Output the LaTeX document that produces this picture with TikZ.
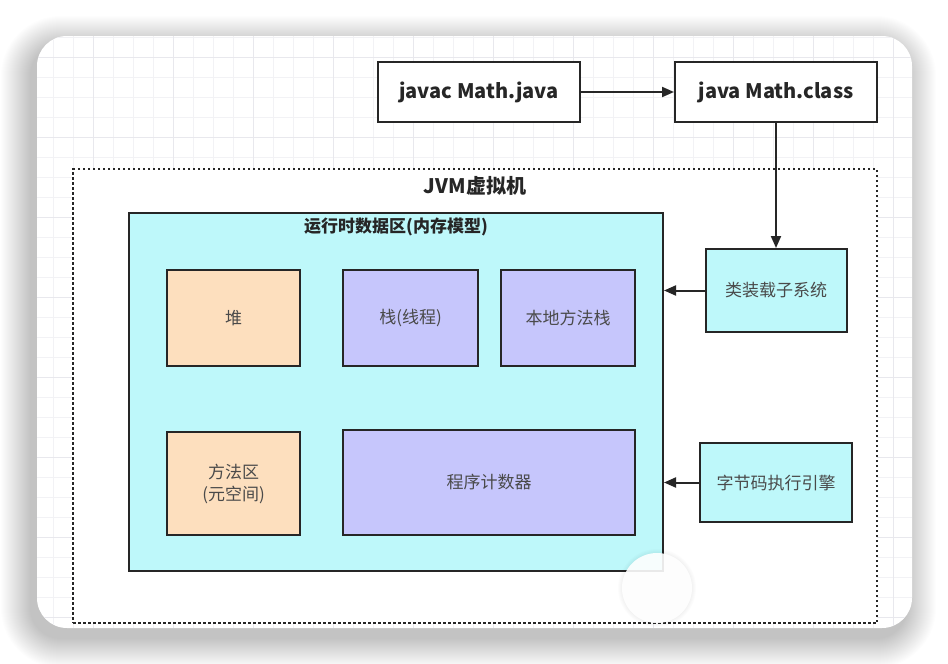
\documentclass[tikz,border=0pt]{standalone}
\usepackage{fontspec}
\setmainfont{Noto Sans CJK SC}
\usetikzlibrary{arrows.meta, positioning, calc}
\definecolor{jvmInk}{HTML}{262626}
\definecolor{jvmText}{HTML}{4A4A4A}
\definecolor{jvmCyan}{HTML}{BEF8FA}
\definecolor{jvmPeach}{HTML}{FDDFBE}
\definecolor{jvmViolet}{HTML}{C6C6FC}
\definecolor{jvmGrid}{HTML}{F2F2F5}
\definecolor{jvmGridMajor}{HTML}{E8E8ED}
\tikzset{
  jvmbox/.style={rectangle, draw=jvmInk, line width=2pt, inner sep=2pt, align=center,
                 text=jvmText, font=\fontsize{17}{22}\selectfont},
  cmdbox/.style={jvmbox, fill=white, text=jvmInk, font=\fontsize{20}{24}\selectfont\bfseries,
                 minimum width=202pt, minimum height=60pt},
  jvmflow/.style={-{Triangle[length=12pt, width=10pt]}, line width=2pt, color=jvmInk},
}

\begin{document}
\begin{tikzpicture}[x=1pt, y=-1pt,
  memarea/.style={jvmbox, minimum width=134pt, minimum height=96pt},
  areatitle/.style={text=jvmInk, inner sep=0pt, font=\fontsize{17}{20}\selectfont\bfseries}]
  \useasboundingbox (0,0) rectangle (948,664);
  \fill[white] (0,0) rectangle (948,664);
  % soft shadow of the card
  \foreach \s in {1,...,30}
    \fill[black, opacity=0.0075, rounded corners={30pt+\s pt}]
      ({37-6-\s},{36+10-\s}) rectangle ({912-6+\s},{628+10+\s});
  \fill[white, rounded corners=30pt] (37,36) rectangle (912,628);
  \begin{scope}
    \clip[rounded corners=30pt] (37,36) rectangle (912,628);
    \foreach \gx in {33,53,...,913} \draw[jvmGrid, line width=0.8pt] (\gx,36) -- (\gx,628);
    \foreach \gy in {37,57,...,637} \draw[jvmGrid, line width=0.8pt] (37,\gy) -- (912,\gy);
    \foreach \gx in {93,173,...,913} \draw[jvmGridMajor, line width=0.8pt] (\gx,36) -- (\gx,628);
    \foreach \gy in {57,137,...,637} \draw[jvmGridMajor, line width=0.8pt] (37,\gy) -- (912,\gy);
  \end{scope}
  \node[cmdbox] (javac) at (479,92) {javac Math.java};
  \node[cmdbox, right=93pt of javac] (mathcls) {java Math.class};
  \node[rectangle, draw=jvmInk, line width=2.5pt, dash pattern=on 2.5pt off 2.5pt, fill=white,
        minimum width=804pt, minimum height=454pt] (jvm) at (475,396) {};
  \node[areatitle, font=\fontsize{20}{24}\selectfont\bfseries] (jvmtitle) at (475,186) {JVM虚拟机};
  \node[jvmbox, fill=jvmCyan, minimum width=534pt, minimum height=358pt] (rda) at (396,392) {};
  \node[areatitle] (rdatitle) at (396,227) {运行时数据区(内存模型)};
  \node[memarea, fill=jvmPeach, minimum width=133pt] (heap) at (233.5,318) {堆};
  \node[memarea, fill=jvmViolet, right=41pt of heap, minimum width=135pt] (stack) {栈(线程)};
  \node[memarea, fill=jvmViolet, right=21pt of stack] (native) {本地方法栈};
  \node[memarea, fill=jvmPeach, minimum width=133pt, minimum height=103pt] (meta) at (233.5,483.5) {方法区\\(元空间)};
  \node[memarea, fill=jvmViolet, minimum width=292pt, minimum height=105pt] (pc) at (489,482.5) {程序计数器};
  \node[jvmbox, fill=jvmCyan, minimum width=141pt, minimum height=83pt, below=125pt of mathcls] (loader) {类装载子系统};
  \node[jvmbox, fill=jvmCyan, minimum width=152pt, minimum height=79pt] (engine) at (776,482.5) {字节码执行引擎};
  \draw[jvmflow] (javac) -- (mathcls);
  \draw[jvmflow] (mathcls) -- (loader);
  \draw[jvmflow] (loader.west) -- (loader.west -| rda.east);
  \draw[jvmflow] (engine.west) -- (engine.west -| rda.east);
  \foreach \s in {1,...,4}
    \fill[black, opacity=0.01] (657,588) circle[radius={35pt+\s pt}];
  \fill[white, fill opacity=0.9] (657,588) circle[radius=35pt];
\end{tikzpicture}
\end{document}
